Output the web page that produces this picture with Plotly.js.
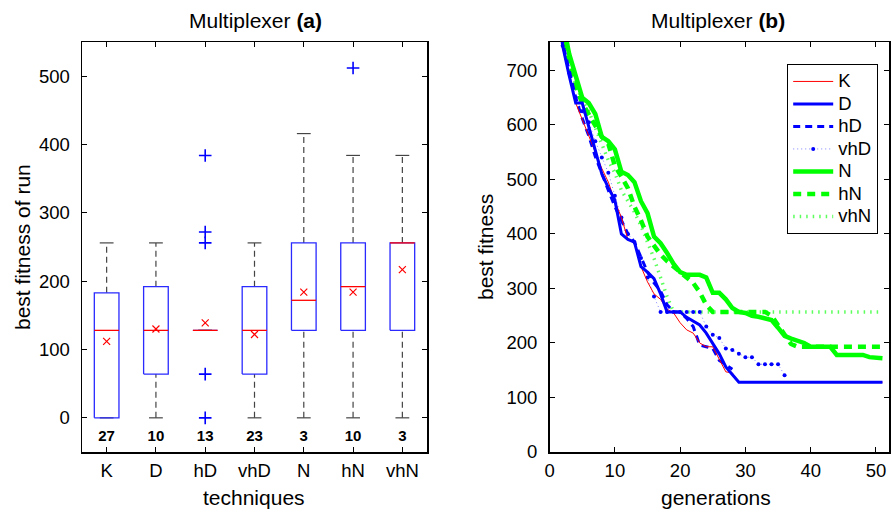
<!DOCTYPE html>
<html>
<head>
<meta charset="utf-8">
<script src="https://cdn.plot.ly/plotly-3.0.1.min.js"></script>
<style>html,body{margin:0;padding:0;background:#fff;}#chart{width:892px;height:512px;}</style>
</head>
<body>
<div id="chart"></div>
<script>
// ---------- Panel (a): box plot statistics ----------
const techniques = ['K', 'D', 'hD', 'vhD', 'N', 'hN', 'vhN'];
const q1Values = [0, 64, 128, 64, 128, 128, 128];
const medianValues = [128, 128, 128, 128, 172, 192, 256];
const q3Values = [183, 192, 128, 192, 256, 256, 256];
const lowerWhiskers = [0, 0, 128, 0, 0, 0, 0];
const upperWhiskers = [256, 256, 128, 256, 416, 384, 384];
const meanValues = [112, 130, 139, 122, 184, 184, 217];
const outlierTechniques = ['hD', 'hD', 'hD', 'hD', 'hD', 'hN'];
const outlierValues = [384, 272, 256, 64, 0, 512];
const runCounts = [27, 10, 13, 23, 3, 10, 3];

// ---------- Panel (b): best fitness per generation ----------
const seriesNames = ['K', 'D', 'hD', 'vhD', 'N', 'hN', 'vhN'];
const fitnessK = [850, 740, 690, 640, 610, 580, 550, 520, 495, 460, 430, 390, 383, 340, 312, 290, 280, 262, 255, 237, 224, 218, 200, 193, 193, 170, 147, 145, 128,
  128, 128, 128, 128, 128, 128, 128, 128, 128, 128, 128, 128, 128, 128, 128, 128, 128, 128, 128, 128, 128, 128];
const fitnessD = [850, 745, 690, 640, 640, 595, 552, 510, 485, 462, 400, 390, 385, 340, 330, 318, 290, 257, 257, 257, 247, 240, 233, 218, 200, 180, 156, 141, 128,
  128, 128, 128, 128, 128, 128, 128, 128, 128, 128, 128, 128, 128, 128, 128, 128, 128, 128, 128, 128, 128, 128];
const fitnessHD = [850, 750, 700, 650, 612, 580, 542, 510, 480, 450, 425, 400, 385, 358, 330, 310, 295, 270, 257, 257, 245, 230, 196, 193, 190, 168, 160, 152];
const fitnessVHD = [850, 745, 695, 650, 625, 605, 570, 540, 512, 470, 430, 400, 385, 356, 320, 285, 257, 257, 257, 257, 257, 257, 257, 230, 215, 209, 190, 187, 180, 174, 174, 161, 161, 161, 161, 141];
const fitnessN = [900, 790, 730, 690, 650, 640, 620, 578, 570, 555, 514, 508, 495, 460, 438, 395, 383, 365, 345, 330, 325, 325, 325, 320, 292, 292, 280, 264, 257, 255,
  250, 248, 246, 242, 228, 213, 208, 205, 200, 193, 193, 193, 193, 178, 178, 178, 178, 178, 174, 172, 172];
const fitnessHN = [880, 770, 710, 670, 640, 620, 600, 578, 565, 525, 505, 484, 450, 425, 395, 378, 362, 350, 340, 330, 322, 310, 293, 270, 257,
  257, 257, 257, 257, 257, 257, 257, 257, 250, 232, 213, 198, 193, 193, 193, 193, 193, 193, 193, 193, 193, 193, 193, 193, 193, 193];
const fitnessVHN = [880, 765, 715, 675, 645, 625, 595, 565, 535, 512, 480, 460, 440, 415, 385, 355, 320, 285, 257,
  257, 257, 257, 257, 257, 257, 257, 257, 257, 257, 257, 257, 257, 257, 257, 257, 257, 257, 257, 257, 257, 257, 257, 257, 257, 257, 257, 257, 257, 257, 257, 257];

const FONT = 'Liberation Sans, Arial, Helvetica, sans-serif';
const BOX_HALF = 0.25, CAP_HALF = 0.14;
const pos = techniques.map((t, i) => i + 1);

function segs(builder) {
  const x = [], y = [];
  pos.forEach((p, i) => { builder(p, i).forEach(s => { x.push(s[0][0], s[1][0], null); y.push(s[0][1], s[1][1], null); }); });
  return { x, y };
}

const whisk = segs((p, i) => [[[p, q3Values[i]], [p, upperWhiskers[i]]], [[p, lowerWhiskers[i]], [p, q1Values[i]]]]);
const caps = segs((p, i) => [[[p - CAP_HALF, upperWhiskers[i]], [p + CAP_HALF, upperWhiskers[i]]], [[p - CAP_HALF, lowerWhiskers[i]], [p + CAP_HALF, lowerWhiskers[i]]]]);
const boxX = [], boxY = [];
pos.forEach((p, i) => {
  boxX.push(p - BOX_HALF, p + BOX_HALF, p + BOX_HALF, p - BOX_HALF, p - BOX_HALF, null);
  boxY.push(q1Values[i], q1Values[i], q3Values[i], q3Values[i], q1Values[i], null);
});
const med = segs((p, i) => [[[p - BOX_HALF, medianValues[i]], [p + BOX_HALF, medianValues[i]]]]);

const traces = [
  { x: whisk.x, y: whisk.y, xaxis: 'x', yaxis: 'y', mode: 'lines', showlegend: false, hoverinfo: 'skip',
    line: { color: '#444', width: 1.2, dash: '6px,4px' } },
  { x: caps.x, y: caps.y, xaxis: 'x', yaxis: 'y', mode: 'lines', showlegend: false, hoverinfo: 'skip',
    line: { color: '#444', width: 1.2 } },
  { x: boxX, y: boxY, xaxis: 'x', yaxis: 'y', mode: 'lines', showlegend: false, hoverinfo: 'skip',
    line: { color: '#2a2aff', width: 1.3 } },
  { x: med.x, y: med.y, xaxis: 'x', yaxis: 'y', mode: 'lines', showlegend: false, hoverinfo: 'skip',
    line: { color: '#ff0000', width: 1.3 } },
  { x: pos, y: meanValues, xaxis: 'x', yaxis: 'y', mode: 'markers', showlegend: false,
    marker: { symbol: 'x-thin-open', size: 7, color: '#ff0000', line: { color: '#ff0000', width: 1.2 } } },
  { x: outlierTechniques.map(t => techniques.indexOf(t) + 1), y: outlierValues, xaxis: 'x', yaxis: 'y', mode: 'markers', showlegend: false,
    marker: { symbol: 'cross-thin-open', size: 9, color: '#0000ff', line: { color: '#0000ff', width: 1.6 } } },
  { x: pos, y: pos.map(() => -28), xaxis: 'x', yaxis: 'y', mode: 'text', showlegend: false, hoverinfo: 'skip',
    text: runCounts.map(String), textposition: 'middle center',
    textfont: { family: FONT, size: 15, color: '#000', weight: 'bold' } }
];

const seriesData = [fitnessK, fitnessD, fitnessHD, fitnessVHD, fitnessN, fitnessHN, fitnessVHN];
const seriesStyles = [
  { line: { color: '#ff0000', width: 1 } },
  { line: { color: '#0000ff', width: 3 } },
  { line: { color: '#0000ff', width: 3, dash: '7px,5px' } },
  { line: { color: '#8080ff', width: 1, dash: '1px,3px' }, marker: { color: '#0000ff', size: 4 }, mode: 'lines+markers' },
  { line: { color: '#00ff00', width: 4.5 } },
  { line: { color: '#00ff00', width: 4.5, dash: '8px,6px' } },
  { line: { color: '#5cff5c', width: 3.5, dash: '1.5px,5px' } }
];
const order = [6, 5, 4, 3, 2, 0, 1];
const lineTraces = [];
seriesNames.forEach((name, k) => {
  const vals = seriesData[k];
  const gens = vals.map((v, i) => i + 1);
  const st = seriesStyles[k];
  lineTraces.push(Object.assign({ x: gens, y: vals, name: '<span style="font-size:18.5px">' + name + '</span>',
    xaxis: 'x2', yaxis: 'y2', mode: st.mode || 'lines', legendrank: k + 1 }, st));
});
order.forEach(k => traces.push(lineTraces[k]));

const axisCommon = {
  showline: true, linecolor: '#000', linewidth: 1.5, mirror: 'allticks', ticks: 'inside', ticklen: 5,
  tickcolor: '#000', tickwidth: 1, showgrid: false, zeroline: false,
  tickfont: { family: FONT, size: 18.5, color: '#000' }
};
const yDom = [1 - 452 / 512, 1 - 42 / 512];
function ann(text, px, py, size, extra) {
  return Object.assign({ text: text, x: px / 892, y: 1 - py / 512, xref: 'paper', yref: 'paper', xanchor: 'center', yanchor: 'middle',
    showarrow: false, font: { family: FONT, size: size, color: '#000' } }, extra || {});
}

const layout = {
  width: 892, height: 512,
  margin: { l: 0, r: 0, t: 0, b: 0 },
  paper_bgcolor: '#fff', plot_bgcolor: '#fff',
  font: { family: FONT, color: '#000' },
  xaxis: Object.assign({}, axisCommon, { domain: [82 / 892, 427 / 892], range: [0.5, 7.5], tickvals: pos, ticktext: techniques, anchor: 'y', ticklabelstandoff: 1 }),
  yaxis: Object.assign({}, axisCommon, { domain: yDom, range: [-50, 550], tickvals: [0, 100, 200, 300, 400, 500], anchor: 'x', ticklabelstandoff: 7 }),
  xaxis2: Object.assign({}, axisCommon, { domain: [549.6 / 892, 889 / 892], range: [0, 52], tickvals: [0, 10, 20, 30, 40, 50], anchor: 'y2', ticklabelstandoff: 1 }),
  yaxis2: Object.assign({}, axisCommon, { domain: yDom, range: [0, 752], tickvals: [0, 100, 200, 300, 400, 500, 600, 700], anchor: 'x2', ticklabelstandoff: 7 }),
  showlegend: true,
  legend: {
    x: 787 / 892, y: 1 - 64 / 512, xanchor: 'left', yanchor: 'top',
    bgcolor: '#fff', bordercolor: '#000', borderwidth: 1.2,
    font: { family: FONT, size: 15, color: '#000' }, tracegroupgap: 0, itemwidth: 40, traceorder: 'normal'
  },
  annotations: [
    ann('Multiplexer <b>(a)</b>', 255, 20, 21),
    ann('Multiplexer <b>(b)</b>', 718, 20, 21),
    ann('techniques', 254, 497, 21),
    ann('generations', 716, 497, 21),
    ann('best fitness of run', 22, 247, 21, { textangle: -90 }),
    ann('best fitness', 485, 247, 21, { textangle: -90 })
  ]
};

Plotly.newPlot('chart', traces, layout, { staticPlot: true, displayModeBar: false });
</script>
</body>
</html>
